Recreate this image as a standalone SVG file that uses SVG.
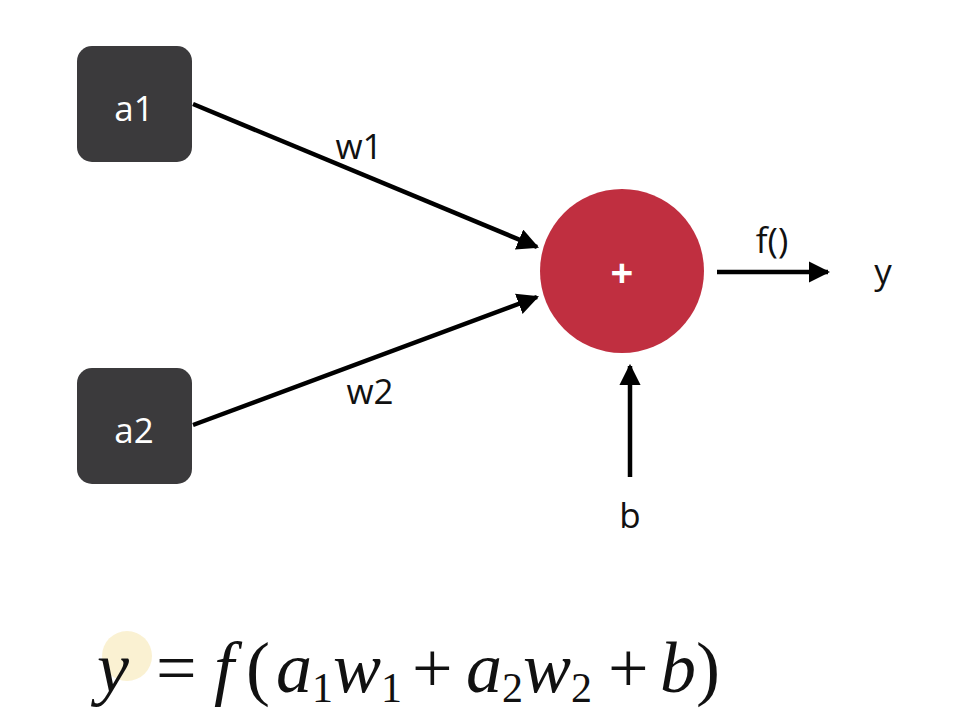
<svg xmlns="http://www.w3.org/2000/svg" width="970" height="728" viewBox="0 0 970 728">
<defs>
<style>
.box{fill:#3b3a3c;}
.lbl{font-family:"Open Sans","Liberation Sans",sans-serif;font-size:35px;fill:#111;}
.wl{font-family:"Open Sans","Liberation Sans",sans-serif;font-size:35px;fill:#fff;}
.edge{stroke:#000;stroke-width:4.5;fill:none;}
.math{font-family:"Liberation Serif","Times New Roman",serif;font-size:72px;fill:#111;}
.mi{font-style:italic;}
.sub{font-size:42px;}
</style>
<marker id="ah" viewBox="0 0 10 10" refX="9" refY="5" markerWidth="4.8" markerHeight="4.8" markerUnits="strokeWidth" orient="auto">
<path d="M0,0 L10,5 L0,10 z" fill="#000"/>
</marker>
</defs>
<rect width="970" height="728" fill="#fff"/>
<g id="connectors">
<line class="edge" x1="193" y1="104" x2="537" y2="247" marker-end="url(#ah)"/>
<line class="edge" x1="193" y1="425" x2="537" y2="297" marker-end="url(#ah)"/>
<line class="edge" x1="717" y1="272" x2="828" y2="272" marker-end="url(#ah)"/>
<line class="edge" x1="630" y1="477" x2="630" y2="366" marker-end="url(#ah)"/>
<text class="lbl" x="359" y="159" text-anchor="middle">w1</text>
<text class="lbl" x="370" y="404" text-anchor="middle">w2</text>
<text class="lbl" x="772" y="253" text-anchor="middle">f()</text>
<text class="lbl" x="630" y="528" text-anchor="middle">b</text>
</g>
<g id="a1">
<rect class="box" x="77" y="46" width="115" height="116" rx="15"/>
<text class="wl" x="134" y="121" text-anchor="middle">a1</text>
</g>
<g id="a2">
<rect class="box" x="77" y="368" width="115" height="116" rx="15"/>
<text class="wl" x="134" y="443" text-anchor="middle">a2</text>
</g>
<g id="sum">
<circle cx="622" cy="271" r="82" fill="#c02f40"/>
<text x="622" y="287" text-anchor="middle" font-family="Open Sans, Liberation Sans, sans-serif" font-size="40" font-weight="bold" fill="#fff">+</text>
</g>
<g id="y">
<text class="lbl" x="883" y="284" text-anchor="middle">y</text>
</g>
<g id="formula">
<circle cx="127" cy="656" r="25" fill="#f6e7b4" opacity="0.6"/>
<text class="math" y="692"><tspan x="97" class="mi">y</tspan><tspan x="156">=</tspan><tspan x="214" class="mi">f</tspan><tspan x="246">(</tspan><tspan x="276" class="mi">a</tspan><tspan class="sub" dy="10">1</tspan><tspan class="mi" dy="-10">w</tspan><tspan class="sub" dy="10">1</tspan><tspan x="412" dy="-10">+</tspan><tspan x="466" class="mi">a</tspan><tspan class="sub" dy="10">2</tspan><tspan class="mi" dy="-10">w</tspan><tspan class="sub" dy="10">2</tspan><tspan x="608" dy="-10">+</tspan><tspan x="660" class="mi">b</tspan><tspan>)</tspan></text>
</g>
</svg>
